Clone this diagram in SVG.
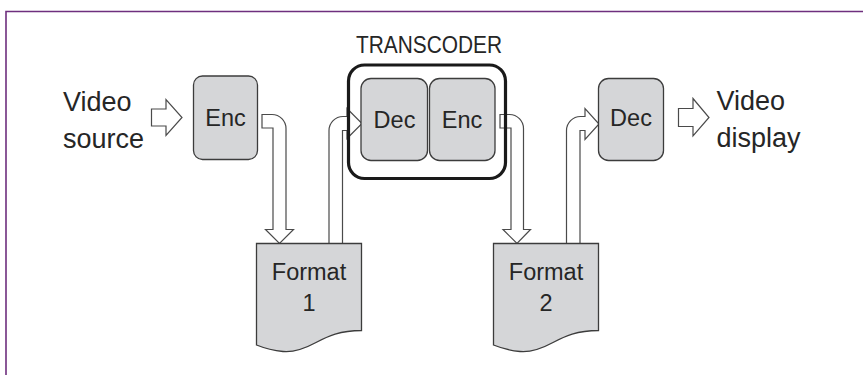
<svg xmlns="http://www.w3.org/2000/svg" width="863" height="375" viewBox="0 0 863 375">
  <style>
    .frame { fill: none; stroke: #6e2f7e; stroke-width: 1.6; }
    .box { fill: #d5d6d8; stroke: #3c3c3c; stroke-width: 1.3; }
    .doc { fill: #d5d6d8; stroke: #3c3c3c; stroke-width: 1.3; }
    .group { fill: none; stroke: #1a1a1a; stroke-width: 3.2; }
    .flow { fill: #ffffff; stroke: #4a4a4a; stroke-width: 1.2; stroke-linejoin: miter; }
    .lbl { font-family: "Liberation Sans", Arial, sans-serif; fill: #262626; }
    .big { font-size: 27px; }
    .mid { font-size: 23.5px; text-anchor: middle; }
  </style>

  <rect width="863" height="375" fill="#ffffff"/>
  <!-- page frame -->
  <path class="frame" d="M6,380 V11.5 H870"/>

  <!-- block-arrow connectors -->
  <g id="connectors">
    <!-- video source -> Enc -->
    <path class="flow" d="M151.5,109 H166 V99.5 L182,117.5 L166,135.5 V126 H151.5 Z"/>
    <!-- Enc -> Format 1 -->
    <path class="flow" d="M262,114.5 H272 A14,14 0 0 1 286,128.5 V229.5 H293.5 L279.5,243.5 L265.5,229.5 H273 V128 H262 Z"/>
    <!-- Format 1 -> transcoder Dec -->
    <path class="flow" d="M329,243.5 V130.5 A14,14 0 0 1 343,116.5 H347 V108.5 L362,123.5 L347,138.5 V130.5 H342.5 V243.5 Z"/>
    <!-- transcoder Enc -> Format 2 -->
    <path class="flow" d="M500,114.5 H509.5 A14,14 0 0 1 523.5,128.5 V229.5 H530.5 L517,243.5 L503,229.5 H511 V128 H500 Z"/>
    <!-- Format 2 -> Dec -->
    <path class="flow" d="M566.5,243.5 V130.5 A14,14 0 0 1 580.5,116.5 H585 V108.5 L599,124 L585,139.5 V130.5 H580 V243.5 Z"/>
    <!-- Dec -> video display -->
    <path class="flow" d="M678.5,108.5 H693 V98.5 L709,117.5 L693,136 V126.5 H678.5 Z"/>
  </g>

  <g id="video-source">
    <text class="lbl big" x="63" y="111">Video</text>
    <text class="lbl big" x="63" y="148">source</text>
  </g>

  <g id="enc1">
    <rect class="box" x="193.5" y="76" width="64" height="83.5" rx="9"/>
    <text class="lbl mid" x="225.5" y="126">Enc</text>
  </g>

  <g id="transcoder">
    <text class="lbl mid" x="429" y="52.5" textLength="146" lengthAdjust="spacingAndGlyphs">TRANSCODER</text>
    <rect class="group" x="348.5" y="65" width="157" height="113.5" rx="16"/>
  </g>

  <g id="dec-transcoder">
    <rect class="box" x="361" y="78.5" width="66.5" height="82" rx="10"/>
    <text class="lbl mid" x="394.5" y="127.5">Dec</text>
  </g>

  <g id="enc-transcoder">
    <rect class="box" x="429.5" y="78.5" width="65.5" height="82" rx="10"/>
    <text class="lbl mid" x="462" y="127.5">Enc</text>
  </g>

  <g id="dec2">
    <rect class="box" x="598.5" y="78.5" width="65" height="82" rx="10"/>
    <text class="lbl mid" x="631" y="126">Dec</text>
  </g>

  <g id="format1">
    <path class="doc" d="M256.5,243.5 H361.5 V330.5 C340,330.5 328,336 316,342.5 C304,349 294,352.5 283,351.5 C272,350.5 264,348 256.5,345 Z"/>
    <text class="lbl mid" x="309" y="279.5">Format</text>
    <text class="lbl mid" x="309" y="311">1</text>
  </g>

  <g id="format2">
    <path class="doc" d="M493.5,243.5 H598.5 V330.5 C577,330.5 565,336 553,342.5 C541,349 531,352.5 520,351.5 C509,350.5 501,348 493.5,345 Z"/>
    <text class="lbl mid" x="546" y="279.5">Format</text>
    <text class="lbl mid" x="546" y="311">2</text>
  </g>

  <g id="video-display">
    <text class="lbl big" x="716.5" y="110">Video</text>
    <text class="lbl big" x="716.5" y="146.5">display</text>
  </g>
</svg>
